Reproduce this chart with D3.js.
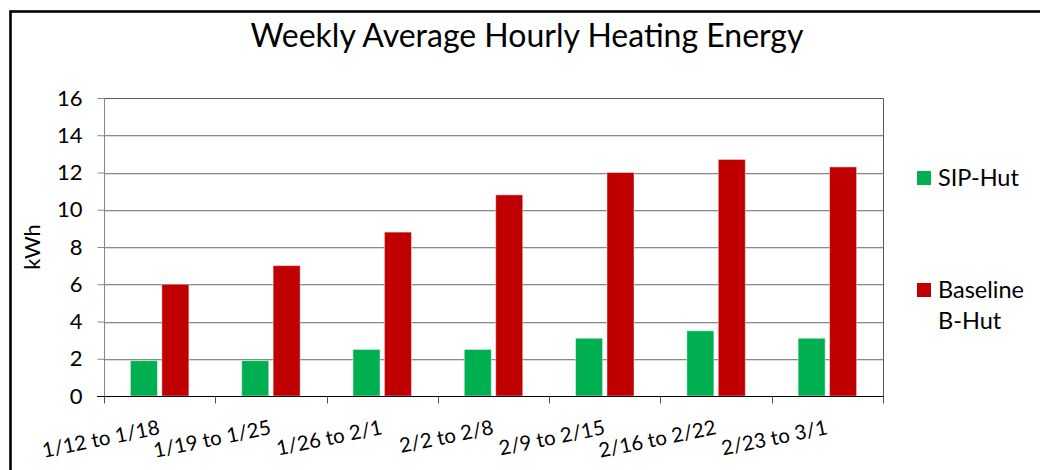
<!DOCTYPE html>
<html>
<head>
<meta charset="utf-8">
<script src="https://cdn.jsdelivr.net/npm/d3@7"></script>
<style>
  html, body { margin: 0; padding: 0; background: #fff; }
  svg { display: block; }
  text { font-family: Lato, "Open Sans", "Noto Sans", sans-serif; fill: #000; }
</style>
</head>
<body>
<svg id="chart" width="1040" height="470"></svg>
<script>
const categories = ["1/12 to 1/18", "1/19 to 1/25", "1/26 to 2/1", "2/2 to 2/8", "2/9 to 2/15", "2/16 to 2/22", "2/23 to 3/1"];
const seriesNames = ["SIP-Hut", "Baseline B-Hut"];
const sipHut = [1.9, 1.9, 2.5, 2.5, 3.1, 3.5, 3.1];
const baselineBHut = [6.0, 7.0, 8.8, 10.8, 12.0, 12.7, 12.3];
const yTicks = [0, 2, 4, 6, 8, 10, 12, 14, 16];
const seriesColors = ["#00b050", "#c00000"];
const titleText = "Weekly Average Hourly Heating Energy";
const yAxisTitle = "kWh";

const seriesValues = [sipHut, baselineBHut];
const rows = categories.map((c, i) => ({ cat: c, vals: seriesValues.map((s, k) => ({ key: seriesNames[k], k, v: s[i] })) }));

const svg = d3.select("#chart");
const plot = { left: 104, right: 883, top: 98, bottom: 396 };

// outer chart frame
svg.append("rect").attr("x", 10.5).attr("y", 11.5).attr("width", 1100).attr("height", 600)
  .attr("fill", "none").attr("stroke", "#000").attr("stroke-width", 2.6);

const x0 = d3.scaleBand().domain(categories).range([plot.left, plot.right]).paddingInner(0).paddingOuter(0);
const x1 = d3.scaleBand().domain(seriesNames).range([0, x0.bandwidth()]).paddingInner(0.14).paddingOuter(0.84);
const y = d3.scaleLinear().domain([0, 16]).range([plot.bottom, plot.top]);

// gridlines
const grid = svg.append("g");
yTicks.filter(t => t > 0 && t < 16).forEach(t => {
  const yy = Math.round(y(t));
  grid.append("line").attr("x1", plot.left).attr("x2", plot.right).attr("y1", yy + 1.5).attr("y2", yy + 1.5)
    .attr("stroke", "#dcdcdc").attr("stroke-width", 1);
  grid.append("line").attr("x1", plot.left).attr("x2", plot.right).attr("y1", yy + 0.5).attr("y2", yy + 0.5)
    .attr("stroke", "#8a8a8a").attr("stroke-width", 1);
});
// plot top & right border
svg.append("path").attr("d", `M${plot.left},${plot.top + 0.5}H${plot.right + 0.5}V${plot.bottom}`)
  .attr("fill", "none").attr("stroke", "#595959").attr("stroke-width", 1);

// bars
const groups = svg.append("g").selectAll("g").data(rows).join("g")
  .attr("transform", d => `translate(${x0(d.cat)},0)`);
groups.selectAll("rect").data(d => d.vals).join("rect")
  .attr("x", d => x1(d.key))
  .attr("y", d => y(d.v))
  .attr("width", x1.bandwidth())
  .attr("height", d => y(0) - y(d.v))
  .attr("fill", d => seriesColors[d.k])
  .attr("stroke", "rgba(255,255,255,0.45)")
  .attr("stroke-width", 1);

// y axis
const yAxis = svg.append("g").attr("transform", `translate(${plot.left + 0.5},0)`)
  .call(d3.axisLeft(y).tickValues(yTicks).tickSize(7).tickPadding(15).tickFormat(d3.format("d")));
yAxis.select(".domain").attr("stroke", "#868686").attr("d", `M0,${plot.top}V${plot.bottom}`);
yAxis.selectAll(".tick line").attr("stroke", "#868686");
yAxis.selectAll(".tick text").attr("font-size", 22).attr("font-family", "Lato, sans-serif").attr("fill", "#000");

// x axis
const xAxis = svg.append("g").attr("transform", `translate(0,${plot.bottom + 0.5})`);
xAxis.append("line").attr("x1", plot.left - 7).attr("x2", plot.right + 1).attr("y1", 0).attr("y2", 0)
  .attr("stroke", "#000").attr("stroke-width", 1.2);
const boundaries = categories.map(c => x0(c)).concat([plot.right]);
xAxis.selectAll("line.tk").data(boundaries).join("line").attr("class", "tk")
  .attr("x1", d => Math.round(d) + 0.5).attr("x2", d => Math.round(d) + 0.5)
  .attr("y1", 0).attr("y2", 7).attr("stroke", "#555").attr("stroke-width", 1);
svg.append("g").selectAll("text").data(categories).join("text")
  .attr("transform", d => `translate(${x0(d) + x0.bandwidth() / 2 + 1},434) rotate(-11.5)`)
  .attr("text-anchor", "end")
  .attr("font-size", 20.5)
  .text(d => d);

// y axis title
svg.append("text").attr("transform", "translate(31,247) rotate(-90)")
  .attr("text-anchor", "middle").attr("dominant-baseline", "central")
  .attr("font-size", 22).text(yAxisTitle);

// title
svg.append("text").attr("x", 527).attr("y", 47).attr("text-anchor", "middle")
  .attr("font-size", 32).text(titleText);

// legend
const legendItems = [
  { name: "SIP-Hut", lines: ["SIP-Hut"], k: 0, y: 171 },
  { name: "Baseline B-Hut", lines: ["Baseline", "B-Hut"], k: 1, y: 283 }
];
const lg = svg.append("g");
legendItems.forEach(it => {
  lg.append("rect").attr("x", 917).attr("y", it.y).attr("width", 14).attr("height", 14)
    .attr("fill", seriesColors[it.k]);
  const t = lg.append("text").attr("x", 938).attr("y", it.y + 14.5).attr("font-size", 23.5);
  it.lines.forEach((ln, i) => t.append("tspan").attr("x", 938).attr("dy", i === 0 ? 0 : 31).text(ln));
});
</script>
</body>
</html>
